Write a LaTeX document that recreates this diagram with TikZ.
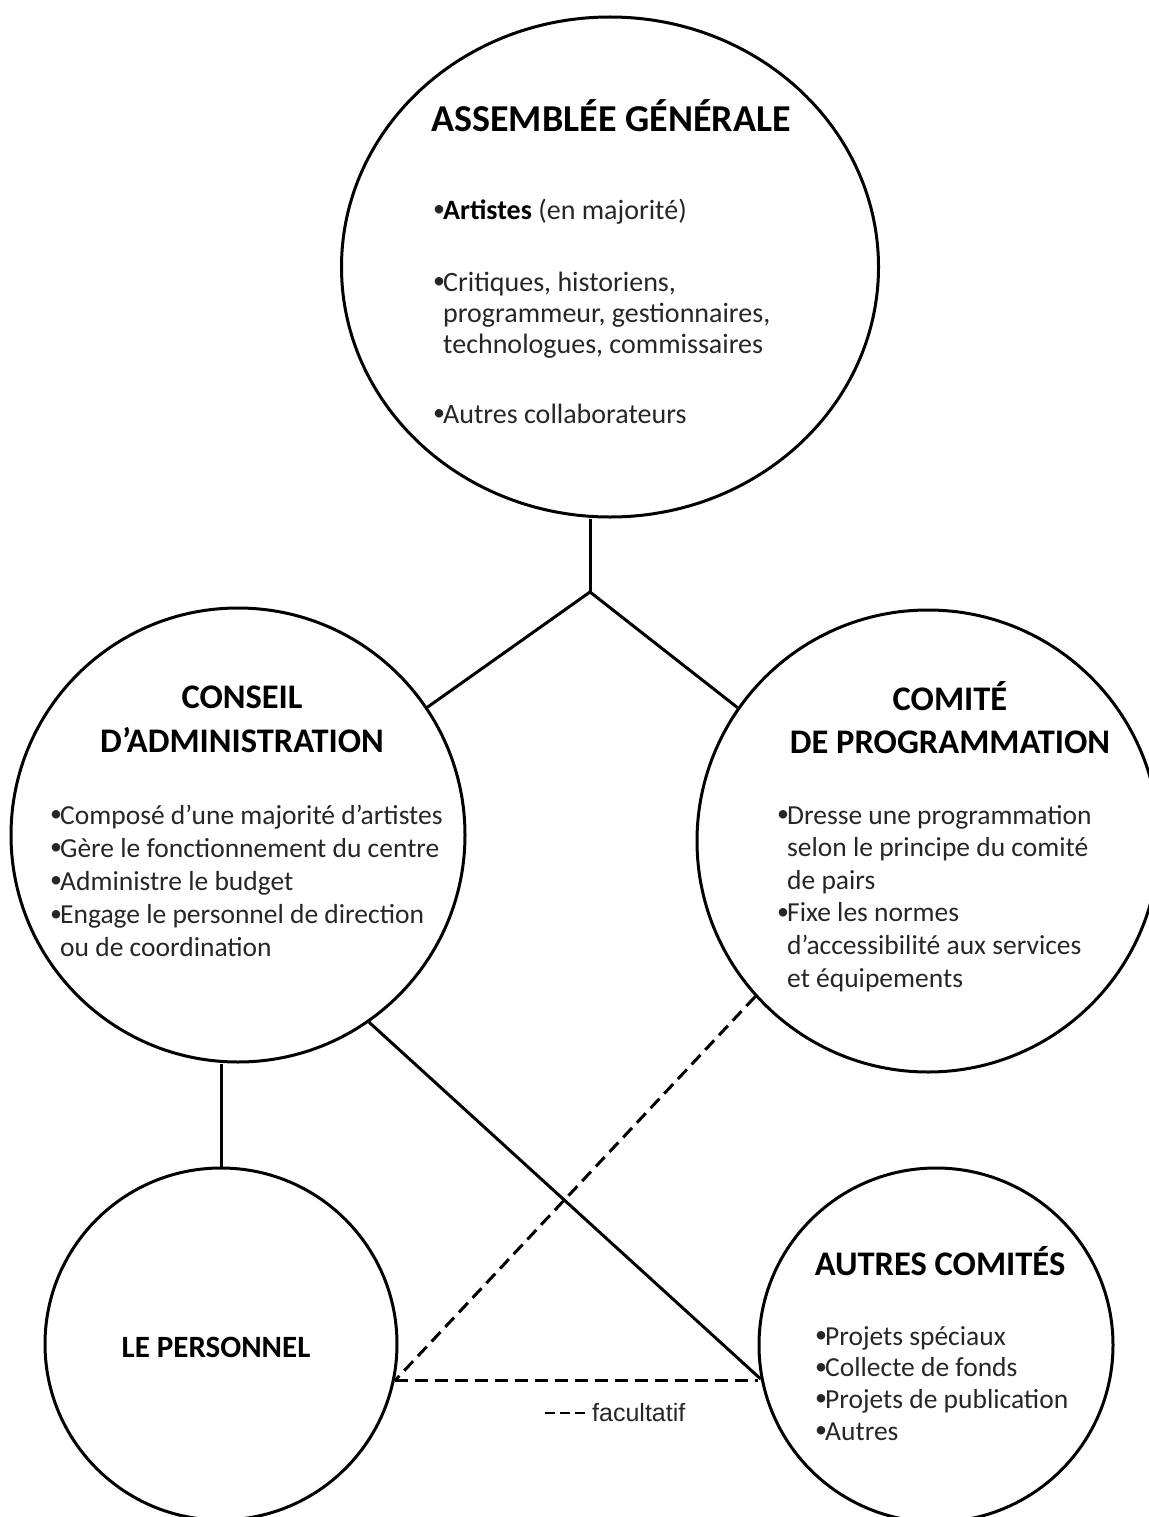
\documentclass[tikz,border=0pt]{standalone}
\usepackage{fontspec}
\setmainfont{Carlito}
\newfontfamily\legendfont{Liberation Sans}
\usetikzlibrary{shapes.geometric}
\newcommand{\bl}{\makebox[10pt][l]{\raisebox{2.5pt}{\fontsize{24}{24}\selectfont •}}}
\newcommand{\hb}{\hspace*{10pt}}
\newcommand{\blines}[1]{\begin{tabular}[t]{@{}l@{}}#1\end{tabular}}
\begin{document}
\begin{tikzpicture}[x=1pt,y=-1pt,
  bubble/.style={circle, draw, line width=3pt, inner sep=0pt},
  ttl/.style={font=\bfseries\fontsize{34.5}{40}\selectfont, anchor=base, inner sep=0pt},
  body/.style={font=\fontsize{28}{32}\selectfont, anchor=base west, inner sep=0pt, text=black!85},
  link/.style={line width=3pt},
  optlink/.style={line width=3pt, dash pattern=on 13pt off 7pt}]
\useasboundingbox (0,0) rectangle (1148,1517);
\fill[white] (0,0) rectangle (1148,1517);

% circles
\node[ellipse, draw, line width=3pt, inner sep=0pt, minimum width=537pt, minimum height=500pt] (ag) at (610,267) {};
\node[bubble, minimum size=454pt] (ca) at (238,835) {};
\node[bubble, minimum size=462pt] (cp) at (928,841) {};
\node[bubble, minimum size=352pt] (lp) at (221,1344) {};
\node[bubble, minimum size=354pt] (ac) at (936,1345) {};

% titles
\node[ttl, font=\bfseries\fontsize{38}{44}\selectfont] (agT) at (611,132) {ASSEMBLÉE GÉNÉRALE};
\node[ttl] (caT1) at (242,708) {CONSEIL};
\node[ttl] (caT2) at (242,752) {D’ADMINISTRATION};
\node[ttl] (cpT1) at (950,710) {COMITÉ};
\node[ttl] (cpT2) at (950,753) {DE PROGRAMMATION};
\node[ttl] (acT) at (940,1275) {AUTRES COMITÉS};
\node[ttl, font=\bfseries\fontsize{31}{36}\selectfont] (lpT) at (216,1357) {LE PERSONNEL};

% assemblée générale
\node[body] (ag1) at (433,219) {\bl\textbf{\color{black}Artistes} (en majorité)};
\node[body, font=\fontsize{28}{31}\selectfont] (ag2) at (433,291) {\blines{\bl Critiques, historiens,\\
  \hb programmeur, gestionnaires,\\
  \hb technologues, commissaires}};
\node[body] (ag3) at (433,423) {\bl Autres collaborateurs};

% conseil
\node[body, font=\fontsize{27.5}{33.2}\selectfont] (ca1) at (50,824) {\blines{\bl Composé d’une majorité d’artistes\\
  \bl Gère le fonctionnement du centre\\
  \bl Administre le budget\\
  \bl Engage le personnel de direction\\
  \hb ou de coordination}};

% comité
\node[body, font=\fontsize{27.5}{32.6}\selectfont] (cp1) at (777,824) {\blines{\bl Dresse une programmation\\
  \hb selon le principe du comité\\
  \hb de pairs\\
  \bl Fixe les normes\\
  \hb d’accessibilité aux services\\
  \hb et équipements}};

% autres comités
\node[body, font=\fontsize{27.5}{31.7}\selectfont] (ac1) at (815,1345) {\blines{\bl Projets spéciaux\\
  \bl Collecte de fonds\\
  \bl Projets de publication\\
  \bl Autres}};

% connectors
\coordinate (J) at (590,592);
\draw[link] (J |- ag.south) -- (J);
\draw[link] (ca.34) -- (J) -- (cp.145);
\draw[link] (lp.north) -- (lp.north |- ca.south);
\draw[link] (ca.-55) -- (ac.191);
\draw[optlink] (cp.222) -- (lp.-12);
\draw[optlink] (lp.-12) -- (lp.-12 -| ac.west);

% legend
\coordinate (lg1) at (545,1413);
\coordinate (lg2) at (590,1413);
\draw[line width=2.6pt, dash pattern=on 10pt off 5pt] (lg1) -- (lg2);
\node[anchor=base west, inner sep=0pt, text=black!85, font=\legendfont\fontsize{25}{30}\selectfont] (lgT) at (592,1421) {facultatif};
\end{tikzpicture}
\end{document}
